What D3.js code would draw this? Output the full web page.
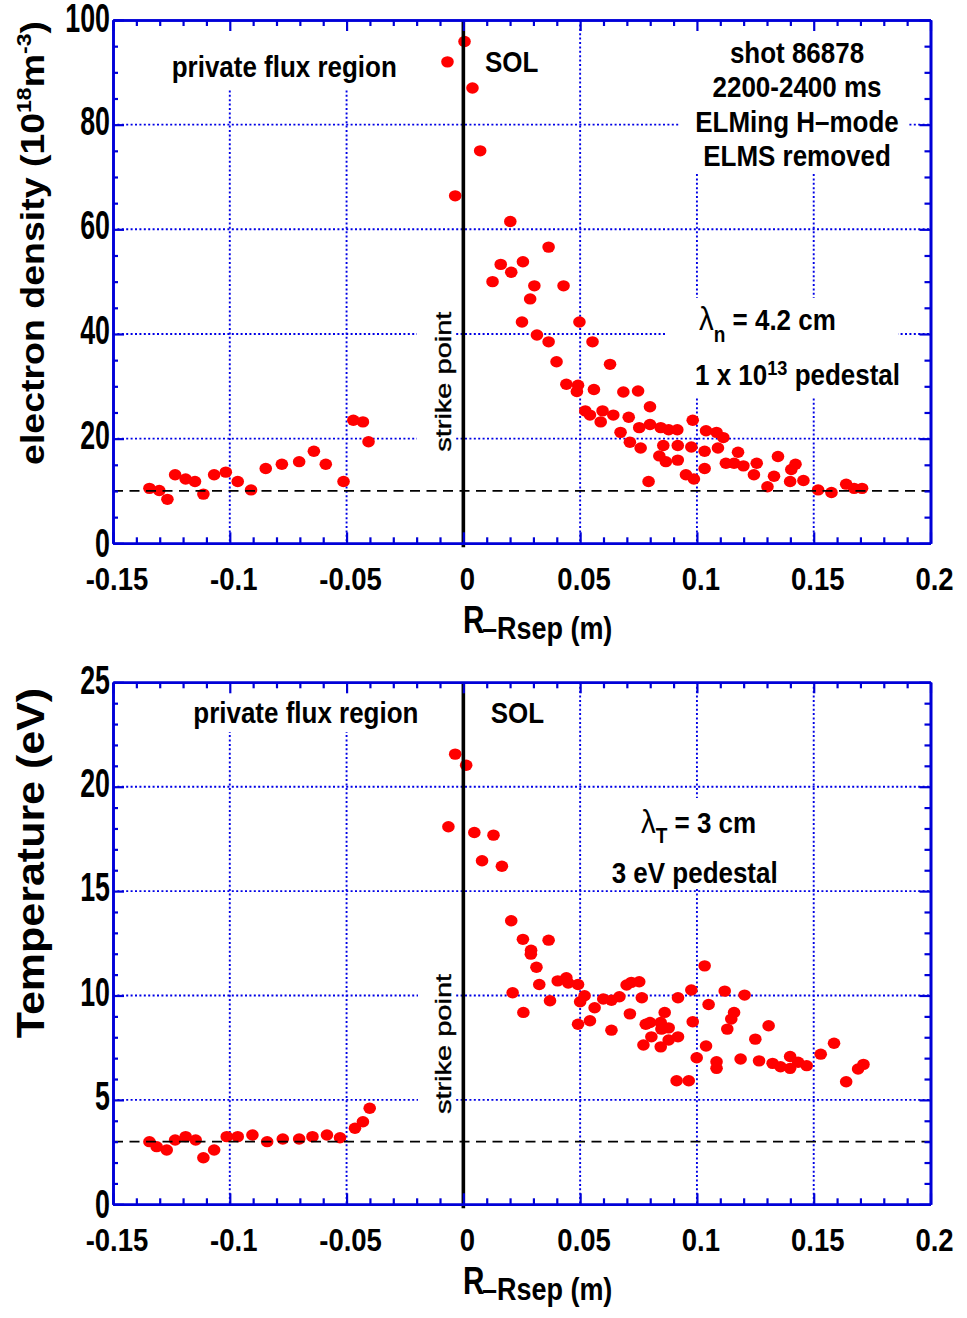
<!DOCTYPE html>
<html><head><meta charset="utf-8">
<script src="https://cdn.jsdelivr.net/npm/d3@7"></script>
<style>body{margin:0;background:#fff}svg{display:block}</style>
</head><body><svg id="c" width="967" height="1318"></svg>
<script>
// ---------------- data ----------------
const xTickValues = [-0.15,-0.1,-0.05,0,0.05,0.1,0.15,0.2];
const xTickLabels = ["-0.15","-0.1","-0.05","0","0.05","0.1","0.15","0.2"];
const densityTicks = [0,20,40,60,80,100];
const densityTickLabels = ["0","20","40","60","80","100"];
const tempTicks = [0,5,10,15,20,25];
const tempTickLabels = ["0","5","10","15","20","25"];
const densityPedestal = 10;
const tempPedestal = 3;

const densityR = [
 -0.1344,-0.1302,-0.1267,-0.1234,-0.1189,-0.1149,-0.1113,-0.1067,-0.1017,-0.0966,
 -0.0909,-0.0846,-0.0777,-0.0703,-0.0640,-0.0589,-0.0513,-0.0471,-0.0430,-0.0406,
 -0.0068,-0.0035,0.0005,0.0039,0.0072,
 0.0201,0.0125,0.0160,0.0205,0.0255,0.0365,0.0304,0.0286,0.0251,0.0315,
 0.0429,0.0497,0.0365,0.0553,0.0399,0.0628,0.0441,0.0491,0.0486,0.0559,
 0.0685,0.0748,0.0799,0.0522,0.0542,0.0596,0.0588,0.0642,0.0708,0.0673,
 0.0753,0.0799,0.0845,0.0879,0.0916,0.0982,0.0713,0.0759,0.0856,0.0918,
 0.0976,0.0839,0.0867,0.0918,0.0793,0.0953,0.0987,0.1039,0.1084,0.1113,
 0.1033,0.1090,0.1033,0.1176,0.1124,0.1159,0.1199,0.1256,0.1244,0.1347,
 0.1330,0.1302,0.1422,0.1404,0.1399,0.1456,0.1519,0.1576,0.1639,0.1673,0.1707
];
const densityVal = [
 10.5,10.1,8.4,13.1,12.3,11.8,9.4,13.1,13.6,11.8,
 10.2,14.3,15.1,15.6,17.6,15.1,11.8,23.5,23.2,19.4,
 92.0,66.4,95.9,87.0,75.0,
 61.5,50.0,53.3,51.8,53.8,56.6,49.2,46.7,42.3,39.8,
 49.2,42.3,38.5,38.5,34.7,34.2,30.4,30.2,29.0,29.4,
 28.9,29.1,26.1,25.3,24.5,25.3,23.2,24.5,24.1,21.2,
 22.1,22.7,22.1,21.7,21.7,23.5,19.3,18.2,18.7,18.7,
 18.4,16.7,15.6,15.9,11.8,13.1,12.3,21.5,21.2,20.2,
 17.6,18.2,14.3,17.4,15.3,15.3,14.8,15.3,13.1,16.6,
 12.8,10.8,15.1,14.1,11.8,12.0,10.2,9.7,11.3,10.5,10.5
];

const tempR = [
 -0.1344,-0.1313,-0.1270,-0.1234,-0.1189,-0.1146,-0.1113,-0.1067,-0.1013,-0.0966,
 -0.0903,-0.0840,-0.0773,-0.0703,-0.0646,-0.0584,-0.0528,-0.0464,-0.0430,-0.0401,
 -0.0035,0.0012,-0.0064,0.0047,0.0129,0.0080,0.0165,
 0.0205,0.0255,0.0290,0.0365,0.0289,0.0313,0.0325,0.0211,0.0257,0.0371,
 0.0404,0.0441,0.0449,0.0491,0.0491,0.0519,0.0500,0.0542,0.0562,0.0599,
 0.0634,0.0668,0.0634,0.0699,0.0719,0.0753,0.0713,0.0764,0.0781,0.0799,
 0.0771,0.0805,0.0845,0.0862,0.0845,0.0848,0.0879,0.0879,0.0919,0.0919,
 0.0913,0.0965,0.0976,0.0982,0.0999,0.1033,0.1050,0.1039,0.1084,0.1084,
 0.1119,0.1159,0.1147,0.1130,0.1204,0.1187,0.1250,0.1307,0.1266,0.1324,
 0.1358,0.1399,0.1399,0.1433,0.1470,0.1530,0.1587,0.1639,0.1690,0.1713
];
const tempVal = [
 3.00,2.76,2.60,3.08,3.24,3.08,2.23,2.60,3.24,3.24,
 3.32,3.00,3.13,3.13,3.24,3.32,3.19,3.64,3.95,4.60,
 21.56,21.03,18.08,17.81,17.68,16.45,16.19,
 13.58,12.69,12.17,12.65,11.98,11.35,10.53,10.13,9.19,9.75,
 10.70,10.85,10.60,10.53,8.62,9.99,9.70,8.79,9.41,9.83,
 9.77,9.94,8.34,10.50,10.63,10.66,9.12,9.89,8.62,8.71,
 7.63,8.02,7.54,9.19,8.71,8.39,8.45,7.87,8.02,9.89,
 5.92,5.92,10.26,8.74,7.02,11.42,9.57,7.58,6.83,6.51,
 10.21,9.19,8.87,8.39,10.02,6.96,7.91,8.55,6.87,6.75,
 6.59,7.08,6.51,6.80,6.64,7.19,7.71,5.87,6.48,6.70
];

// ---------------- drawing ----------------
const FONT = "'Liberation Sans', Arial, Helvetica, sans-serif";
const AXIS = "#0000d8";
const GRID = "#0000e6";
const svg = d3.select("#c");
svg.append("rect").attr("width",967).attr("height",1318).attr("fill","#fff");

function stext(parent, x, y, k, size, weight, anchor, rot) {
  const g = parent.append("g")
    .attr("transform", `translate(${x},${y}) scale(${k},1)` + (rot ? ` rotate(${rot})` : ""));
  return g.append("text")
    .attr("font-family", FONT)
    .attr("font-size", size)
    .attr("font-weight", weight || "bold")
    .attr("text-anchor", anchor || "start")
    .attr("fill", "#000");
}

const panels = [
  {
    top: 20, bottom: 543.3, domain: [0,100], ticks: densityTicks, labels: densityTickLabels,
    minor: d3.range(0, 101, 5), R: densityR, V: densityVal, ped: densityPedestal,
    boxes: [[165,21,235,67],[680,21,227,152],[667,298,231,100],[417,305,38,148]],
    strikeY: 381.7
  },
  {
    top: 682.3, bottom: 1204.3, domain: [0,25], ticks: tempTicks, labels: tempTickLabels,
    minor: d3.range(0, 26, 1), R: tempR, V: tempVal, ped: tempPedestal,
    boxes: [[186,683,238,49],[600,798,200,90],[418,968,37,150]],
    strikeY: 1044
  }
];

const xMinor = d3.range(0, 36).map(i => +(-0.15 + i * 0.01).toFixed(3));

panels.forEach((p, pi) => {
  const x = d3.scaleLinear().domain([-0.15, 0.2]).range([113, 930.5]);
  const y = d3.scaleLinear().domain(p.domain).range([p.bottom, p.top]);
  const g = svg.append("g");

  // grid
  g.selectAll(".vg").data(xTickValues.filter(v => v > -0.15 && v < 0.2 && v !== 0)).join("line")
    .attr("x1", d => x(d)).attr("x2", d => x(d)).attr("y1", p.top).attr("y2", p.bottom)
    .attr("stroke", GRID).attr("stroke-width", 1.9).attr("stroke-dasharray", "2,2.4");
  g.selectAll(".hg").data(p.ticks.filter(v => v > p.domain[0] && v < p.domain[1])).join("line")
    .attr("x1", 113).attr("x2", 930.5).attr("y1", d => y(d)).attr("y2", d => y(d))
    .attr("stroke", GRID).attr("stroke-width", 1.9).attr("stroke-dasharray", "2,2.4");

  // white boxes behind annotations
  g.selectAll(".box").data(p.boxes).join("rect")
    .attr("x", d => d[0]).attr("y", d => d[1]).attr("width", d => d[2]).attr("height", d => d[3])
    .attr("fill", "#fff");

  // points
  g.selectAll(".pt").data(p.R.map((r, i) => [r, p.V[i]])).join("ellipse")
    .attr("cx", d => x(d[0])).attr("cy", d => y(d[1]))
    .attr("rx", 6.3).attr("ry", 5.7).attr("fill", "#ff0000");

  // pedestal dashed line
  g.append("line").attr("x1", 113).attr("x2", 930.5).attr("y1", y(p.ped)).attr("y2", y(p.ped))
    .attr("stroke", "#000").attr("stroke-width", 1.7).attr("stroke-dasharray", "10,6.5");

  // strike point line
  g.append("line").attr("x1", x(0)).attr("x2", x(0)).attr("y1", p.top).attr("y2", p.bottom + 4)
    .attr("stroke", "#000").attr("stroke-width", 3.6);

  // axes
  const mk = (gen, tx, ty, vals, size) => {
    const a = g.append("g").attr("transform", `translate(${tx},${ty})`)
      .call(gen.tickValues(vals).tickSize(-size).tickSizeOuter(0).tickFormat(""));
    a.selectAll("line").attr("stroke", AXIS).attr("stroke-width", 2.2);
    a.select(".domain").attr("stroke", AXIS).attr("stroke-width", 2.6);
    return a;
  };
  const yMin = p.minor.filter(v => !p.ticks.includes(v));
  const xMin = xMinor.filter(v => !xTickValues.some(t => Math.abs(t - v) < 1e-6));
  mk(d3.axisBottom(x), 0, p.bottom, xTickValues, 11);
  mk(d3.axisBottom(x), 0, p.bottom, xMin, 6);
  mk(d3.axisTop(x), 0, p.top, xTickValues, 11);
  mk(d3.axisTop(x), 0, p.top, xMin, 6);
  mk(d3.axisLeft(y), 113, 0, p.ticks, 11);
  mk(d3.axisLeft(y), 113, 0, yMin, 5);
  mk(d3.axisRight(y), 930.5, 0, p.ticks, 11);
  mk(d3.axisRight(y), 930.5, 0, yMin, 6);

  // tick labels
  xTickValues.forEach((v, i) => {
    stext(g, x(v) + 4, p.bottom + 47, 0.86, 32, "bold", "middle").text(xTickLabels[i]);
  });
  p.ticks.forEach((v, i) => {
    const off = i === 0 ? 14 : (i === p.ticks.length - 1 ? 12 : 10);
    stext(g, 110, y(v) + off, 0.67, 40, "bold", "end").text(p.labels[i]);
  });

  // x title
  stext(g, 463, p.bottom + 90, 0.76, 39, "bold", "start").text("R");
  stext(g, 482, p.bottom + 96, 0.87, 31, "bold", "start").text("\u2013Rsep (m)");

  // strike point label
  stext(g, 451, p.strikeY, 0.74, 29, "normal", "middle", -90)
    .attr("stroke", "#000").attr("stroke-width", 0.5).text("strike point");
});

// ---- annotations, top panel ----
const K = 0.866;
stext(svg, 171.7, 76.7, K, 30, "bold", "start").text("private flux region");
stext(svg, 485, 72, K, 30, "bold", "start").text("SOL");
[["shot 86878", 63.3], ["2200-2400 ms", 96.7], ["ELMing H\u2013mode", 131.7], ["ELMS removed", 165.7]]
  .forEach(d => stext(svg, 797, d[1], K, 30, "bold", "middle").text(d[0]));

let t = stext(svg, 699, 330, K, 34, "normal", "start");
t.append("tspan").text("\u03bb");
t.append("tspan").attr("font-size", 22).attr("font-weight", "bold").attr("dy", 11.5).text("n");
t.append("tspan").attr("font-weight", "bold").attr("font-size", 30).attr("dy", -11.5).text(" = 4.2 cm");

t = stext(svg, 695, 385, K, 30, "bold", "start");
t.append("tspan").text("1 x 10");
t.append("tspan").attr("font-size", 21).attr("dy", -10).text("13");
t.append("tspan").attr("dy", 10).text(" pedestal");

// y title top
t = stext(svg, 44, 243, 0.9, 37.5, "bold", "middle", -90);
t.append("tspan").text("electron density (10");
t.append("tspan").attr("font-size", 23).attr("dy", -14).text("18");
t.append("tspan").attr("dy", 14).text("m");
t.append("tspan").attr("font-size", 23).attr("dy", -14).text("-3");
t.append("tspan").attr("dy", 14).text(")");

// ---- annotations, bottom panel ----
stext(svg, 193.3, 723.3, K, 30, "bold", "start").text("private flux region");
stext(svg, 490.7, 723.3, K, 30, "bold", "start").text("SOL");
t = stext(svg, 641, 833.3, K, 34, "normal", "start");
t.append("tspan").text("\u03bb");
t.append("tspan").attr("font-size", 22).attr("font-weight", "bold").attr("dy", 10).text("T");
t.append("tspan").attr("font-weight", "bold").attr("font-size", 30).attr("dy", -10).text(" = 3 cm");
stext(svg, 611.7, 883.3, K, 30, "bold", "start").text("3 eV pedestal");

stext(svg, 44, 863, 0.9, 43, "bold", "middle", -90).text("Temperature (eV)");
</script>
</body></html>
